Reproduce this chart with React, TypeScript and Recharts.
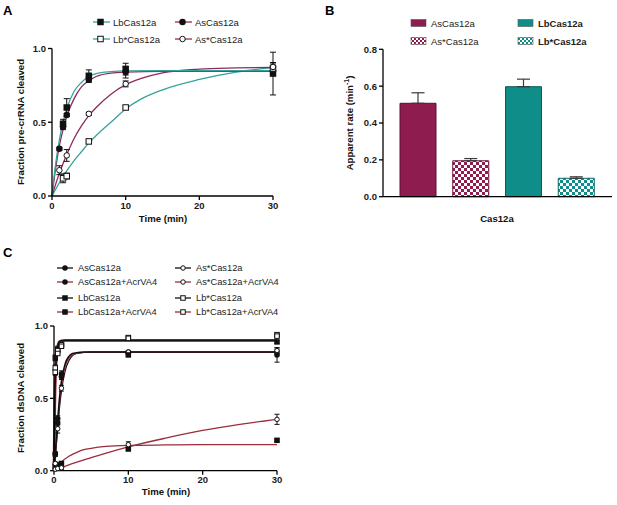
import React from 'react';
import { ComposedChart, Line, Scatter, XAxis, YAxis, ErrorBar, BarChart, Bar, Cell } from 'recharts';

const FONT = '"Liberation Sans", Arial, Helvetica, sans-serif';
const TEAL = '#35A29B';
const PLUM = '#8E2A5B';
const BAR_AS = '#8F1C4F';
const BAR_LB = '#0F8D88';
const BLACK = '#111';
const RED = '#9B2D3A';

// ---------- Panel A data ----------
const A_LB_T = [1.5, 2, 5, 10, 30];
const A_LB_V = [0.49, 0.6, 0.815, 0.86, 0.83];
const A_LB_E = [0.03, 0.06, 0.04, 0.04, 0.145];
const A_AS_T = [1, 1.5, 2, 5, 10, 30];
const A_AS_V = [0.32, 0.47, 0.55, 0.79, 0.84, 0.85];
const A_AS_E = [0.01, 0.02, 0.01, 0.02, 0.04, 0.03];
const A_LBS_T = [1.5, 2, 5, 10, 30];
const A_LBS_V = [0.12, 0.135, 0.37, 0.6, 0.865];
const A_LBS_E = [0.03, 0.02, 0.01, 0.01, 0.03];
const A_ASS_T = [1, 2, 5, 10, 30];
const A_ASS_V = [0.175, 0.275, 0.557, 0.76, 0.875];
const A_ASS_E = [0.03, 0.04, 0.01, 0.02, 0.03];

const A_FIT_FAST_T = [0, 0.5, 1, 1.5, 2, 3, 4, 5, 6, 8, 10, 15, 20, 30];
const A_LB_FIT_V = [0, 0.22, 0.38, 0.5, 0.59, 0.71, 0.77, 0.81, 0.83, 0.843, 0.848, 0.85, 0.85, 0.85];
const A_AS_FIT_V = [0, 0.19, 0.34, 0.45, 0.54, 0.66, 0.74, 0.78, 0.81, 0.833, 0.84, 0.845, 0.845, 0.845];
const A_FIT_SLOW_T = [0, 1, 2, 3, 4, 5, 6, 8, 10, 12, 15, 20, 25, 30];
const A_ASS_FIT_V = [0, 0.155, 0.28, 0.39, 0.475, 0.545, 0.6, 0.69, 0.755, 0.795, 0.835, 0.86, 0.868, 0.872];
const A_LBS_FIT_V = [0, 0.09, 0.17, 0.24, 0.3, 0.36, 0.41, 0.5, 0.59, 0.655, 0.72, 0.79, 0.84, 0.87];

// ---------- Panel B data ----------
const B_NAMES = ['AsCas12a', 'As*Cas12a', 'LbCas12a', 'Lb*Cas12a'];
const B_RATES = [0.507, 0.195, 0.597, 0.1];
const B_ERRS = [0.057, 0.012, 0.041, 0.008];

// ---------- Panel C data ----------
const C_T = [0.17, 0.5, 1, 10, 30];
const C_AS_V = [0.12, 0.36, 0.67, 0.82, 0.82];
const C_AS_E = [0.01, 0.02, 0.02, 0.01, 0.02];
const C_ASACR_V = [0.11, 0.33, 0.65, 0.81, 0.8];
const C_ASACR_E = [0.01, 0.02, 0.02, 0.01, 0.05];
const C_LB_V = [0.78, 0.84, 0.87, 0.8, 0.89];
const C_LB_E = [0.02, 0.02, 0.01, 0.01, 0.01];
const C_LBACR_V = [0.03, 0.04, 0.05, 0.15, 0.21];
const C_LBACR_E = [0.01, 0.01, 0.01, 0.01, 0.01];
const C_ASS_V = [0.05, 0.29, 0.57, 0.82, 0.83];
const C_ASS_E = [0.01, 0.03, 0.02, 0.01, 0.02];
const C_ASSACR_V = [0.01, 0.015, 0.02, 0.18, 0.355];
const C_ASSACR_E = [0.005, 0.005, 0.01, 0.02, 0.035];
const C_LBS_V = [0.71, 0.83, 0.87, 0.92, 0.94];
const C_LBS_E = [0.02, 0.01, 0.01, 0.01, 0.01];
const C_LBSACR_V = [0.68, 0.81, 0.86, 0.915, 0.93];
const C_LBSACR_E = [0.02, 0.01, 0.01, 0.01, 0.01];

const C_FAST_T = [0, 0.1, 0.2, 0.3, 0.5, 0.7, 1, 1.5, 2, 5, 10, 30];
const C_FAST_V = [0, 0.45, 0.66, 0.77, 0.86, 0.89, 0.898, 0.9, 0.9, 0.9, 0.9, 0.9];
const C_MID_T = [0, 0.17, 0.5, 0.75, 1, 1.5, 2, 2.5, 3, 4, 5, 10, 30];
const C_AS_FIT_V = [0, 0.12, 0.35, 0.51, 0.62, 0.74, 0.79, 0.81, 0.815, 0.82, 0.82, 0.82, 0.82];
const C_ASACR_FIT_V = [0, 0.1, 0.32, 0.48, 0.59, 0.72, 0.78, 0.8, 0.81, 0.818, 0.82, 0.82, 0.82];
const C_ASS_FIT_V = [0, 0.09, 0.29, 0.44, 0.55, 0.69, 0.76, 0.795, 0.81, 0.817, 0.82, 0.82, 0.82];
const C_LBACR_FIT_T = [0, 1, 2, 3, 4, 5, 7, 10, 15, 20, 30];
const C_LBACR_FIT_V = [0, 0.06, 0.1, 0.125, 0.145, 0.155, 0.168, 0.175, 0.178, 0.18, 0.18];
const C_ASSACR_FIT_T = [0, 1, 2, 5, 10, 15, 20, 25, 30];
const C_ASSACR_FIT_V = [0, 0.02, 0.04, 0.09, 0.165, 0.225, 0.278, 0.32, 0.355];

const zip = (t: number[], v: number[], e?: number[]) =>
  t.map((x, i) => ({ t: x, v: v[i], e: e ? e[i] : 0 }));

function marker(kind: string, cx: number, cy: number, s: number, col = BLACK) {
  const h = s / 2;
  if (kind === 'fs') return <rect x={cx - h} y={cy - h} width={s} height={s} fill={col} />;
  if (kind === 'os')
    return <rect x={cx - h + 0.5} y={cy - h + 0.5} width={s - 1} height={s - 1} fill="#fff" stroke={col} strokeWidth={1} />;
  if (kind === 'fc') return <circle cx={cx} cy={cy} r={h} fill={col} />;
  return <circle cx={cx} cy={cy} r={h - 0.5} fill="#fff" stroke={col} strokeWidth={1} />;
}
const shapeOf = (kind: string, s: number) => (p: any) =>
  p && p.cx != null && p.cy != null ? <g>{marker(kind, p.cx, p.cy, s)}</g> : <g />;

const tickStyle = { fontFamily: FONT, fontSize: 9.5, fontWeight: 700, fill: '#1a1a1a' };
const axisLine = { stroke: '#000', strokeWidth: 1.3 };
const fmt1 = (v: number) => v.toFixed(1);

function PanelA() {
  const series = [
    { t: A_LB_T, v: A_LB_V, e: A_LB_E, kind: 'fs' },
    { t: A_AS_T, v: A_AS_V, e: A_AS_E, kind: 'fc' },
    { t: A_LBS_T, v: A_LBS_V, e: A_LBS_E, kind: 'os' },
    { t: A_ASS_T, v: A_ASS_V, e: A_ASS_E, kind: 'oc' },
  ];
  const fits = [
    { t: A_FIT_SLOW_T, v: A_LBS_FIT_V, c: TEAL },
    { t: A_FIT_SLOW_T, v: A_ASS_FIT_V, c: PLUM },
    { t: A_FIT_FAST_T, v: A_AS_FIT_V, c: PLUM },
    { t: A_FIT_FAST_T, v: A_LB_FIT_V, c: TEAL },
  ];
  return (
    <ComposedChart width={300} height={240} margin={{ top: 48.5, right: 27, bottom: 14, left: 22 }}>
      <XAxis type="number" dataKey="t" domain={[0, 30]} ticks={[0, 10, 20, 30]} tick={tickStyle}
        axisLine={axisLine} tickLine={axisLine} tickSize={4} height={30} />
      <YAxis type="number" dataKey="v" domain={[0, 1]} ticks={[0, 0.5, 1]} tickFormatter={fmt1} tick={tickStyle}
        axisLine={axisLine} tickLine={axisLine} tickSize={4} width={30} />
      {fits.map((f, i) => (
        <Line key={'f' + i} data={zip(f.t, f.v)} dataKey="v" type="monotone" dot={false} stroke={f.c}
          strokeWidth={1.3} isAnimationActive={false} />
      ))}
      {series.map((s, i) => (
        <Scatter key={'s' + i} data={zip(s.t, s.v, s.e)} dataKey="v" shape={shapeOf(s.kind, 6.5)} isAnimationActive={false}>
          <ErrorBar dataKey="e" direction="y" width={3} stroke="#111" strokeWidth={1} />
        </Scatter>
      ))}
    </ComposedChart>
  );
}

function PanelB() {
  const data = B_NAMES.map((n, i) => ({ name: n, v: B_RATES[i], err: [0, B_ERRS[i]] }));
  const fills = [BAR_AS, 'url(#chkAs)', BAR_LB, 'url(#chkLb)'];
  const strokes = ['#5A1030', '#6A1538', '#0A5C58', '#0A6A66'];
  return (
    <BarChart width={297} height={240} data={data} margin={{ top: 49.3, right: 5, bottom: 8.3, left: 33 }} barSize={36}>
      <defs>
        <pattern id="chkAs" width="6" height="6" patternUnits="userSpaceOnUse">
          <rect width="6" height="6" fill="#fff" />
          <rect width="3" height="3" fill={BAR_AS} />
          <rect x="3" y="3" width="3" height="3" fill={BAR_AS} />
        </pattern>
        <pattern id="chkLb" width="6" height="6" patternUnits="userSpaceOnUse">
          <rect width="6" height="6" fill="#fff" />
          <rect width="3" height="3" fill={BAR_LB} />
          <rect x="3" y="3" width="3" height="3" fill={BAR_LB} />
        </pattern>
      </defs>
      <XAxis dataKey="name" tick={false} axisLine={axisLine} tickLine={axisLine} tickSize={5} height={35}
        padding={{ left: 9, right: 9 }} />
      <YAxis type="number" domain={[0, 0.8]} ticks={[0, 0.2, 0.4, 0.6, 0.8]} tickFormatter={fmt1} tick={tickStyle}
        axisLine={axisLine} tickLine={axisLine} tickSize={4} width={30} />
      <Bar dataKey="v" isAnimationActive={false}>
        {data.map((d, i) => (
          <Cell key={d.name} fill={fills[i]} stroke={strokes[i]} strokeWidth={1} />
        ))}
        <ErrorBar dataKey="err" direction="y" width={6.5} stroke="#3a3a3a" strokeWidth={1.2} />
      </Bar>
    </BarChart>
  );
}

function PanelC() {
  const series = [
    { v: C_LBACR_V, e: C_LBACR_E, kind: 'fs' },
    { v: C_ASSACR_V, e: C_ASSACR_E, kind: 'oc' },
    { v: C_AS_V, e: C_AS_E, kind: 'fc' },
    { v: C_ASACR_V, e: C_ASACR_E, kind: 'fc' },
    { v: C_ASS_V, e: C_ASS_E, kind: 'oc' },
    { v: C_LB_V, e: C_LB_E, kind: 'fs' },
    { v: C_LBS_V, e: C_LBS_E, kind: 'os' },
    { v: C_LBSACR_V, e: C_LBSACR_E, kind: 'os' },
  ];
  const fits = [
    { t: C_LBACR_FIT_T, v: C_LBACR_FIT_V, c: RED, w: 1.3 },
    { t: C_ASSACR_FIT_T, v: C_ASSACR_FIT_V, c: RED, w: 1.3 },
    { t: C_FAST_T, v: C_FAST_V, c: RED, w: 2.8 },
    { t: C_FAST_T, v: C_FAST_V, c: BLACK, w: 1.4 },
    { t: C_MID_T, v: C_ASS_FIT_V, c: BLACK, w: 1.2 },
    { t: C_MID_T, v: C_ASACR_FIT_V, c: RED, w: 1.3 },
    { t: C_MID_T, v: C_AS_FIT_V, c: BLACK, w: 1.5 },
  ];
  return (
    <ComposedChart width={300} height={252} margin={{ top: 76, right: 23, bottom: 1.3, left: 24 }}>
      <XAxis type="number" dataKey="t" domain={[0, 30]} ticks={[0, 10, 20, 30]} tick={tickStyle}
        axisLine={axisLine} tickLine={axisLine} tickSize={4} height={30} />
      <YAxis type="number" dataKey="v" domain={[0, 1]} ticks={[0, 0.5, 1]} tickFormatter={fmt1} tick={tickStyle}
        axisLine={axisLine} tickLine={axisLine} tickSize={4} width={30} />
      {fits.map((f, i) => (
        <Line key={'f' + i} data={zip(f.t, f.v)} dataKey="v" type="monotone" dot={false} stroke={f.c}
          strokeWidth={f.w} isAnimationActive={false} />
      ))}
      {series.map((s, i) => (
        <Scatter key={'s' + i} data={zip(C_T, s.v, s.e)} dataKey="v" shape={shapeOf(s.kind, 5.5)} isAnimationActive={false}>
          <ErrorBar dataKey="e" direction="y" width={2.5} stroke="#111" strokeWidth={1} />
        </Scatter>
      ))}
    </ComposedChart>
  );
}

const A_LEGEND = [
  { x: 93, y: 22, kind: 'fs', c: TEAL, label: 'LbCas12a' },
  { x: 93, y: 39, kind: 'os', c: TEAL, label: 'Lb*Cas12a' },
  { x: 175, y: 22, kind: 'fc', c: PLUM, label: 'AsCas12a' },
  { x: 175, y: 39, kind: 'oc', c: PLUM, label: 'As*Cas12a' },
];
const B_LEGEND = [
  { x: 411, y: 23, fill: BAR_AS, label: 'AsCas12a', bold: false },
  { x: 411, y: 41, fill: 'url(#lchkAs)', label: 'As*Cas12a', bold: false },
  { x: 518, y: 23, fill: BAR_LB, label: 'LbCas12a', bold: true },
  { x: 518, y: 41, fill: 'url(#lchkLb)', label: 'Lb*Cas12a', bold: true },
];
const C_LEGEND = [
  { x: 57, y: 268, kind: 'fc', c: BLACK, label: 'AsCas12a' },
  { x: 57, y: 282, kind: 'fc', c: RED, label: 'AsCas12a+AcrVA4' },
  { x: 57, y: 298, kind: 'fs', c: BLACK, label: 'LbCas12a' },
  { x: 57, y: 312, kind: 'fs', c: RED, label: 'LbCas12a+AcrVA4' },
  { x: 175, y: 268, kind: 'oc', c: BLACK, label: 'As*Cas12a' },
  { x: 175, y: 282, kind: 'oc', c: RED, label: 'As*Cas12a+AcrVA4' },
  { x: 175, y: 298, kind: 'os', c: BLACK, label: 'Lb*Cas12a' },
  { x: 175, y: 312, kind: 'os', c: RED, label: 'Lb*Cas12a+AcrVA4' },
];

function Overlay() {
  const lab = { fontFamily: FONT, fontSize: 9.6, fontWeight: 700, fill: '#111' } as const;
  const leg = { fontFamily: FONT, fontSize: 9.5, fill: '#222' } as const;
  return (
    <svg width={617} height={505} style={{ position: 'absolute', left: 0, top: 0, pointerEvents: 'none' }}>
      <defs>
        <pattern id="lchkAs" width="4" height="4" patternUnits="userSpaceOnUse">
          <rect width="4" height="4" fill="#fff" />
          <rect width="2" height="2" fill={BAR_AS} />
          <rect x="2" y="2" width="2" height="2" fill={BAR_AS} />
        </pattern>
        <pattern id="lchkLb" width="4" height="4" patternUnits="userSpaceOnUse">
          <rect width="4" height="4" fill="#fff" />
          <rect width="2" height="2" fill={BAR_LB} />
          <rect x="2" y="2" width="2" height="2" fill={BAR_LB} />
        </pattern>
      </defs>
      <text x={3} y={15} style={{ fontFamily: FONT, fontSize: 13, fontWeight: 700 }}>A</text>
      <text x={325} y={15} style={{ fontFamily: FONT, fontSize: 13, fontWeight: 700 }}>B</text>
      <text x={3} y={257} style={{ fontFamily: FONT, fontSize: 13, fontWeight: 700 }}>C</text>

      <text x={163} y={221.5} textAnchor="middle" style={lab}>Time (min)</text>
      <text transform="translate(20,122) rotate(-90)" y={3.5} textAnchor="middle" style={lab}>Fraction pre-crRNA cleaved</text>
      <text x={497} y={221.5} textAnchor="middle" style={lab}>Cas12a</text>
      <text transform="translate(349,123) rotate(-90)" y={3.5} textAnchor="middle" style={lab}>
        Apparent rate (min<tspan dy={-3.5} fontSize={7}>-1</tspan><tspan dy={3.5}>)</tspan>
      </text>
      <text x={166} y={495} textAnchor="middle" style={lab}>Time (min)</text>
      <text transform="translate(20,398) rotate(-90)" y={3.5} textAnchor="middle" style={lab}>Fraction dsDNA cleaved</text>

      {A_LEGEND.map((l) => (
        <g key={l.label}>
          <line x1={l.x} x2={l.x + 17} y1={l.y} y2={l.y} stroke={l.c} strokeWidth={1.3} />
          {marker(l.kind, l.x + 7.5, l.y, 6.5)}
          <text x={l.x + 20} y={l.y + 3.5} style={leg}>{l.label}</text>
        </g>
      ))}
      {B_LEGEND.map((l) => (
        <g key={l.label}>
          <rect x={l.x} y={l.y - 3.5} width={15} height={7} fill={l.fill} stroke="#555" strokeWidth={0.6} />
          <text x={l.x + 20} y={l.y + 3.5} style={{ ...leg, fontWeight: l.bold ? 700 : 400 }}>{l.label}</text>
        </g>
      ))}
      {C_LEGEND.map((l) => (
        <g key={l.label}>
          <line x1={l.x} x2={l.x + 16} y1={l.y} y2={l.y} stroke={l.c} strokeWidth={1.3} />
          {marker(l.kind, l.x + 8, l.y, 5.5)}
          <text x={l.x + 21} y={l.y + 3.4} style={{ ...leg, fontSize: 9.3 }}>{l.label}</text>
        </g>
      ))}
    </svg>
  );
}

export default function App() {
  return (
    <div style={{ position: 'absolute', left: 0, top: 0, width: 617, height: 505, background: '#fff', overflow: 'hidden' }}>
      <div style={{ position: 'absolute', left: 0, top: 0 }}>
        <PanelA />
      </div>
      <div style={{ position: 'absolute', left: 320, top: 0 }}>
        <PanelB />
      </div>
      <div style={{ position: 'absolute', left: 0, top: 250 }}>
        <PanelC />
      </div>
      <Overlay />
    </div>
  );
}
